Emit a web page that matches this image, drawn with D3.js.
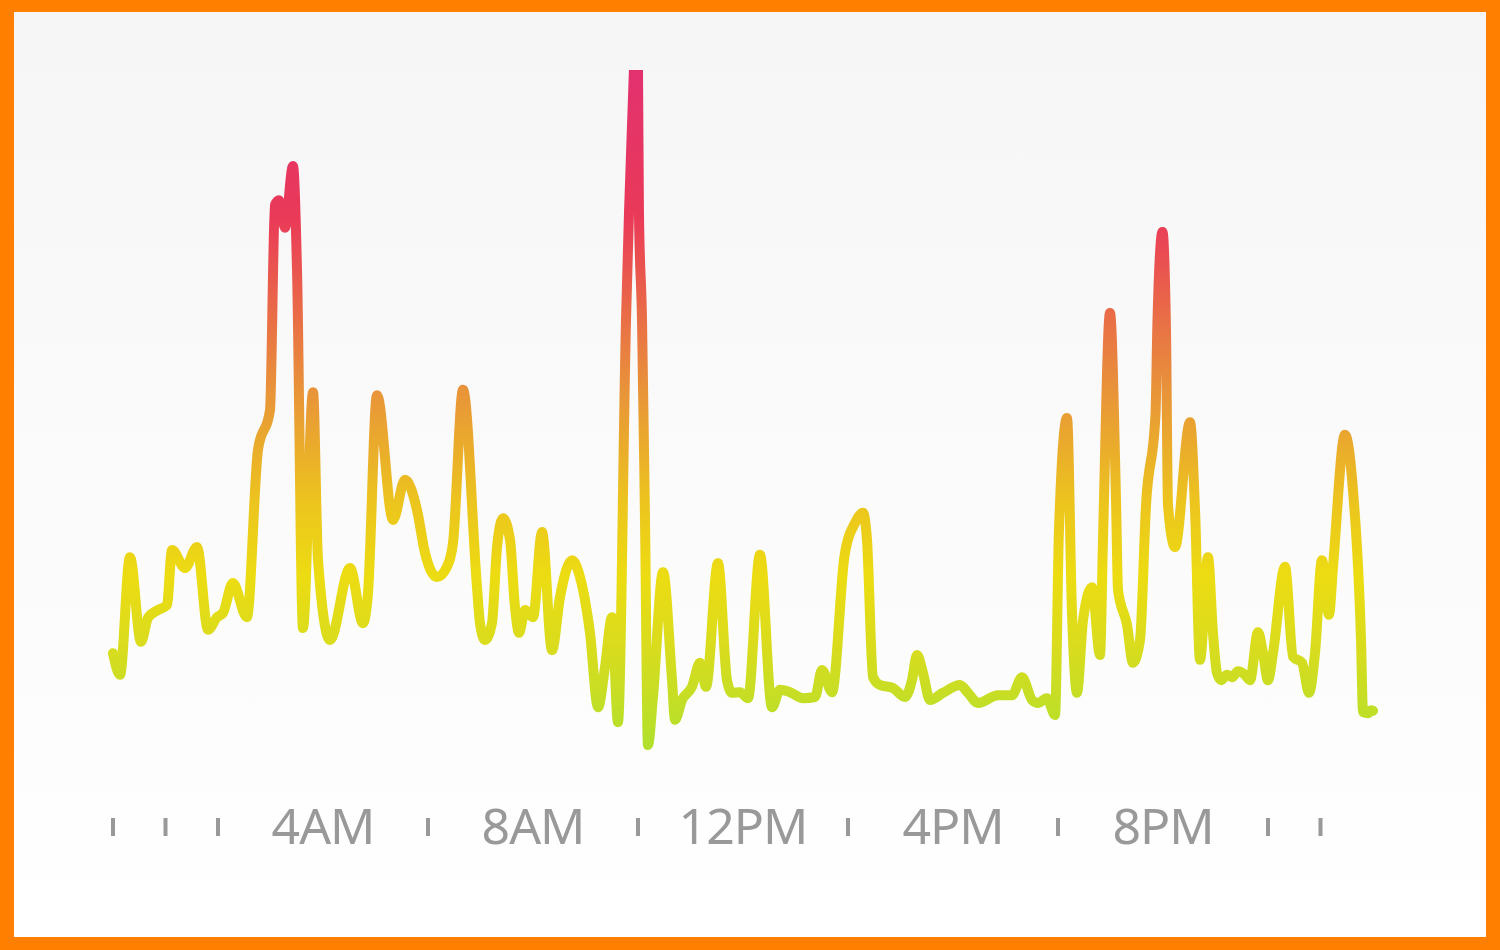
<!DOCTYPE html>
<html>
<head>
<meta charset="utf-8">
<script src="https://cdn.jsdelivr.net/npm/d3@7"></script>
<style>
  html, body { margin: 0; padding: 0; background: #ff7f00; }
  svg { display: block; }
</style>
</head>
<body>
<div id="chart"></div>
<script>
// minutes since midnight and activity value
var minutes = [0, 8, 19.4, 32, 40, 51.4, 61.7, 67.4, 82.3, 96, 108.6, 118.9, 125.7, 137, 153,
  165.7, 179.4, 185.1, 189.7, 196.6, 205.7, 210.3, 217.1, 228.6, 234.3, 248, 270.9, 285.7, 291.4,
  301.7, 320, 333.7, 347.4, 356.6, 370.3, 381.7, 388.6, 400, 416, 419.4, 425.1, 433.1, 438.9,
  445.7, 453.7, 459.4, 464, 470.9, 480, 490.3, 501.7, 510.9, 524.6, 533.7, 545.1, 554.3, 562.3,
  570.3, 577.1, 586.3, 589.7, 595.4, 598.3, 600, 601.1, 604.6, 608, 611.4,
  617.1, 628.6, 638.9, 642.3, 650.3, 661.7, 670.9,
  677.7, 691.4, 701.7, 707.4, 716.6, 725.7, 739.4, 753.1, 762.3, 773.7, 788.6, 802.3, 810.3,
  821.7, 836, 848, 857.1, 861.7, 868.6, 876.6, 891.4, 905.1, 913.1, 918.9, 925.7, 933.7,
  948.6, 968, 977.1, 988.6, 1011.4, 1027.4, 1038.9, 1050.3, 1057.1, 1067.4, 1076.6, 1081.1,
  1090.3, 1096, 1101.7, 1108.6, 1118.9, 1128, 1131.4, 1139.4, 1146.3, 1148.6, 1158.9, 1165.7,
  1173.7, 1180.6, 1191.4, 1193.7, 1199.4, 1203.4, 1205.7, 1213.7, 1230.9, 1236.6, 1242.3,
  1251.4, 1257.1, 1261.7, 1266.3, 1273.1, 1278.9, 1285.7, 1293.7, 1299.4, 1308.6, 1314.3, 1320,
  1325.7, 1339.4, 1348.6, 1358.9, 1366.9, 1373.7, 1381.7, 1389.7, 1394.3, 1408, 1417.1, 1426.3,
  1428.6, 1434.3, 1437.7, 1440];
var values = [22.8, 19.2, 38.8, 24.7, 28.7, 30, 30.8, 40, 37, 40.5, 26.7, 28.8, 29.5, 34.5, 28.8,
  56.7, 63.3, 97.5, 98.3, 93.7, 104, 86.7, 27, 66.3, 38.3, 25, 37, 27.8, 32.8,
  65.8, 45, 51.7, 46.7, 39.5, 35.5, 37.2, 41.2, 66.7, 33.8, 27.8, 25, 27.8, 40.5,
  45.3, 41.7, 30.5, 26.2, 30, 28.8, 43, 23.3, 32.2, 38.3, 35.5, 26.2, 13.8, 20.5,
  28.8, 11.3, 78.3, 96.2, 120.2, 135, 120.2, 96.2, 78.3, 45, 7.5,
  15.5, 36.3, 18.3, 11.7, 15, 17.2, 21.2,
  17.2, 37.8, 18.3, 16.2, 16.3, 15.3, 39.2, 13.8, 16.7, 16.3, 15.3, 15.5, 20,
  16.3, 39, 44.5, 46.2, 41.7, 18.8, 17.5, 17, 15.5, 18.3, 22.5, 19.5, 15,
  16.2, 17.5, 16.2, 14.5, 15.8, 15.8, 18.8, 15, 14.5, 15.3, 12.5, 43.3,
  62, 29.5, 16.2, 28.3, 33.8, 22.5, 41.7, 79.5, 48.3, 33.3, 27.5, 21.2,
  25, 47.5, 62.5, 78.3, 93, 76.7, 47.5, 40.5, 61.3, 46.7, 21.7,
  38.8, 26.2, 19.5, 18.3, 19.2, 18.8, 19.8, 19.2, 18.3, 26.3, 22.8, 18.3,
  22.8, 37.2, 22.2, 21.2, 16.2, 22.8, 38.3, 29.2, 37.2, 59.2, 50, 25,
  13, 12.8, 13.3, 13.2];

var tickHours = [0, 1, 2, 6, 10, 14, 18, 22, 23];
var labelHours = [4, 8, 12, 16, 20];
var labelText = ["4AM", "8AM", "12PM", "4PM", "8PM"];

var colorStops = [
  { offset: "0%", color: "#e2316f" },
  { offset: "22%", color: "#ea3a58" },
  { offset: "47%", color: "#e8923a" },
  { offset: "64%", color: "#ecc41e" },
  { offset: "75%", color: "#ecdc12" },
  { offset: "86%", color: "#d8dc1e" },
  { offset: "100%", color: "#b2e02c" }
];

var width = 1500, height = 950;
var svg = d3.select("#chart").append("svg")
  .attr("width", width)
  .attr("height", height);

var defs = svg.append("defs");

var bg = defs.append("linearGradient")
  .attr("id", "bg")
  .attr("x1", 0).attr("x2", 0).attr("y1", 0).attr("y2", 1);
bg.append("stop").attr("offset", "0%").attr("stop-color", "#f6f6f6");
bg.append("stop").attr("offset", "100%").attr("stop-color", "#ffffff");

// panel
svg.append("rect")
  .attr("x", 0).attr("y", 0)
  .attr("width", width).attr("height", height)
  .attr("fill", "#ff7f00");
svg.append("rect")
  .attr("x", 14).attr("y", 12)
  .attr("width", 1472).attr("height", 925)
  .attr("fill", "url(#bg)");

var x = d3.scaleLinear().domain([0, 24]).range([113, 1373]);
var y = d3.scaleLinear().domain([0, 120]).range([790, 70]);

var grad = defs.append("linearGradient")
  .attr("id", "lineGrad")
  .attr("gradientUnits", "userSpaceOnUse")
  .attr("x1", 0).attr("x2", 0)
  .attr("y1", y(120)).attr("y2", y(7.5));
grad.selectAll("stop").data(colorStops).join("stop")
  .attr("offset", function (d) { return d.offset; })
  .attr("stop-color", function (d) { return d.color; });

defs.append("clipPath").attr("id", "plotClip")
  .append("rect")
  .attr("x", 0).attr("y", y(120))
  .attr("width", width).attr("height", 800);

var data = minutes.map(function (m, i) { return { h: m / 60, v: values[i] }; });

var line = d3.line()
  .x(function (d) { return x(d.h); })
  .y(function (d) { return y(d.v); })
  .curve(d3.curveMonotoneX);

svg.append("path")
  .datum(data)
  .attr("clip-path", "url(#plotClip)")
  .attr("d", line)
  .attr("fill", "none")
  .attr("stroke", "url(#lineGrad)")
  .attr("stroke-width", 10)
  .attr("stroke-linejoin", "round")
  .attr("stroke-linecap", "round");

// axis: small ticks and hour labels
var axis = svg.append("g").attr("class", "axis");
axis.selectAll("line").data(tickHours).join("line")
  .attr("x1", function (d) { return x(d); })
  .attr("x2", function (d) { return x(d); })
  .attr("y1", 818).attr("y2", 836)
  .attr("stroke", "#999")
  .attr("stroke-width", 4);

axis.selectAll("text").data(labelHours).join("text")
  .attr("x", function (d) { return x(d); })
  .attr("y", 844)
  .attr("text-anchor", "middle")
  .attr("font-family", "'Noto Sans', sans-serif")
  .attr("font-size", 50)
  .attr("letter-spacing", -1)
  .attr("fill", "#999")
  .text(function (d, i) { return labelText[i]; });
</script>
</body>
</html>
